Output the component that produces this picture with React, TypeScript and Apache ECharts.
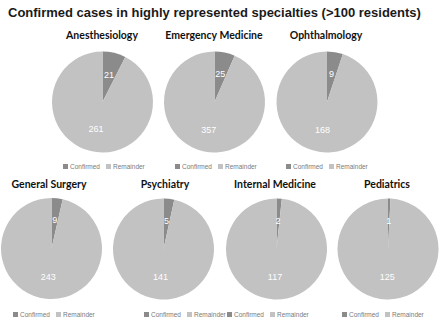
import React, { useEffect, useRef } from "react";
import * as echarts from "echarts";

const specialties = [
  "Anesthesiology",
  "Emergency Medicine",
  "Ophthalmology",
  "General Surgery",
  "Psychiatry",
  "Internal Medicine",
  "Pediatrics",
];
const confirmed = [21, 25, 9, 9, 5, 2, 1];
const remainder = [261, 357, 168, 243, 141, 117, 125];
const legendNames = ["Confirmed", "Remainder"];
const mainTitle = "Confirmed cases in highly represented specialties (>100 residents)";

// layout (not data)
const centers: [number, number][] = [
  [102.5, 102],
  [214.5, 102],
  [327, 102],
  [51.5, 248.5],
  [163.5, 249],
  [276.5, 249],
  [388, 249],
];
const titlePos: [number, number][] = [
  [102, 35],
  [214, 35],
  [326, 35],
  [49, 184],
  [165, 184],
  [275, 184],
  [387, 184],
];
const legendPos: [number, number][] = [
  [63, 167],
  [175, 167],
  [286, 167],
  [13, 315],
  [144, 315],
  [227, 315],
  [342, 315],
];

const DARK = "#8b8b8b";
const LIGHT = "#c2c2c2";

export default function App() {
  const ref = useRef<HTMLDivElement>(null);
  useEffect(() => {
    document.body.style.margin = "0";
    const chart = echarts.init(ref.current!, undefined, { renderer: "svg" });
    const series = specialties.map((s, i) => ({
      type: "pie",
      name: s,
      center: centers[i],
      radius: 50.5,
      startAngle: 90,
      clockwise: true,
      silent: true,
      label: {
        show: true,
        position: "inside",
        formatter: "{c}",
        color: "#ffffff",
        fontSize: 9,
        fontFamily: "Liberation Sans",
      },
      labelLine: { show: false },
      itemStyle: { borderWidth: 0 },
      data: [
        { name: legendNames[0], value: confirmed[i], itemStyle: { color: DARK } },
        { name: legendNames[1], value: remainder[i], itemStyle: { color: LIGHT } },
      ],
    }));
    const legends = legendPos.map(([x, y]) => ({
      left: x,
      top: y - 4,
      padding: 0,
      itemWidth: 5,
      itemHeight: 5,
      itemGap: 6,
      icon: "rect",
      selectedMode: false,
      data: legendNames,
      textStyle: { fontSize: 6.5, color: "#7a7a7a", fontFamily: "Liberation Sans", padding: [0, 0, 0, -3] },
    }));
    const graphics: any[] = [
      {
        type: "text",
        left: 8,
        top: 6,
        style: {
          text: mainTitle,
          font: "bold 13px 'Liberation Sans'",
          fill: "#1a1a1a",
        },
      },
      ...specialties.map((s, i) => ({
        type: "text",
        x: titlePos[i][0],
        y: titlePos[i][1],
        style: {
          text: s,
          font: "bold 10.5px Lato",
          fill: "#111111",
          align: "center",
          verticalAlign: "middle",
        },
      })),
    ];
    chart.setOption({
      animation: false,
      backgroundColor: "#ffffff",
      legend: legends,
      series,
      graphic: graphics,
    });
    return () => chart.dispose();
  }, []);
  return <div ref={ref} style={{ width: 440, height: 319 }} />;
}
